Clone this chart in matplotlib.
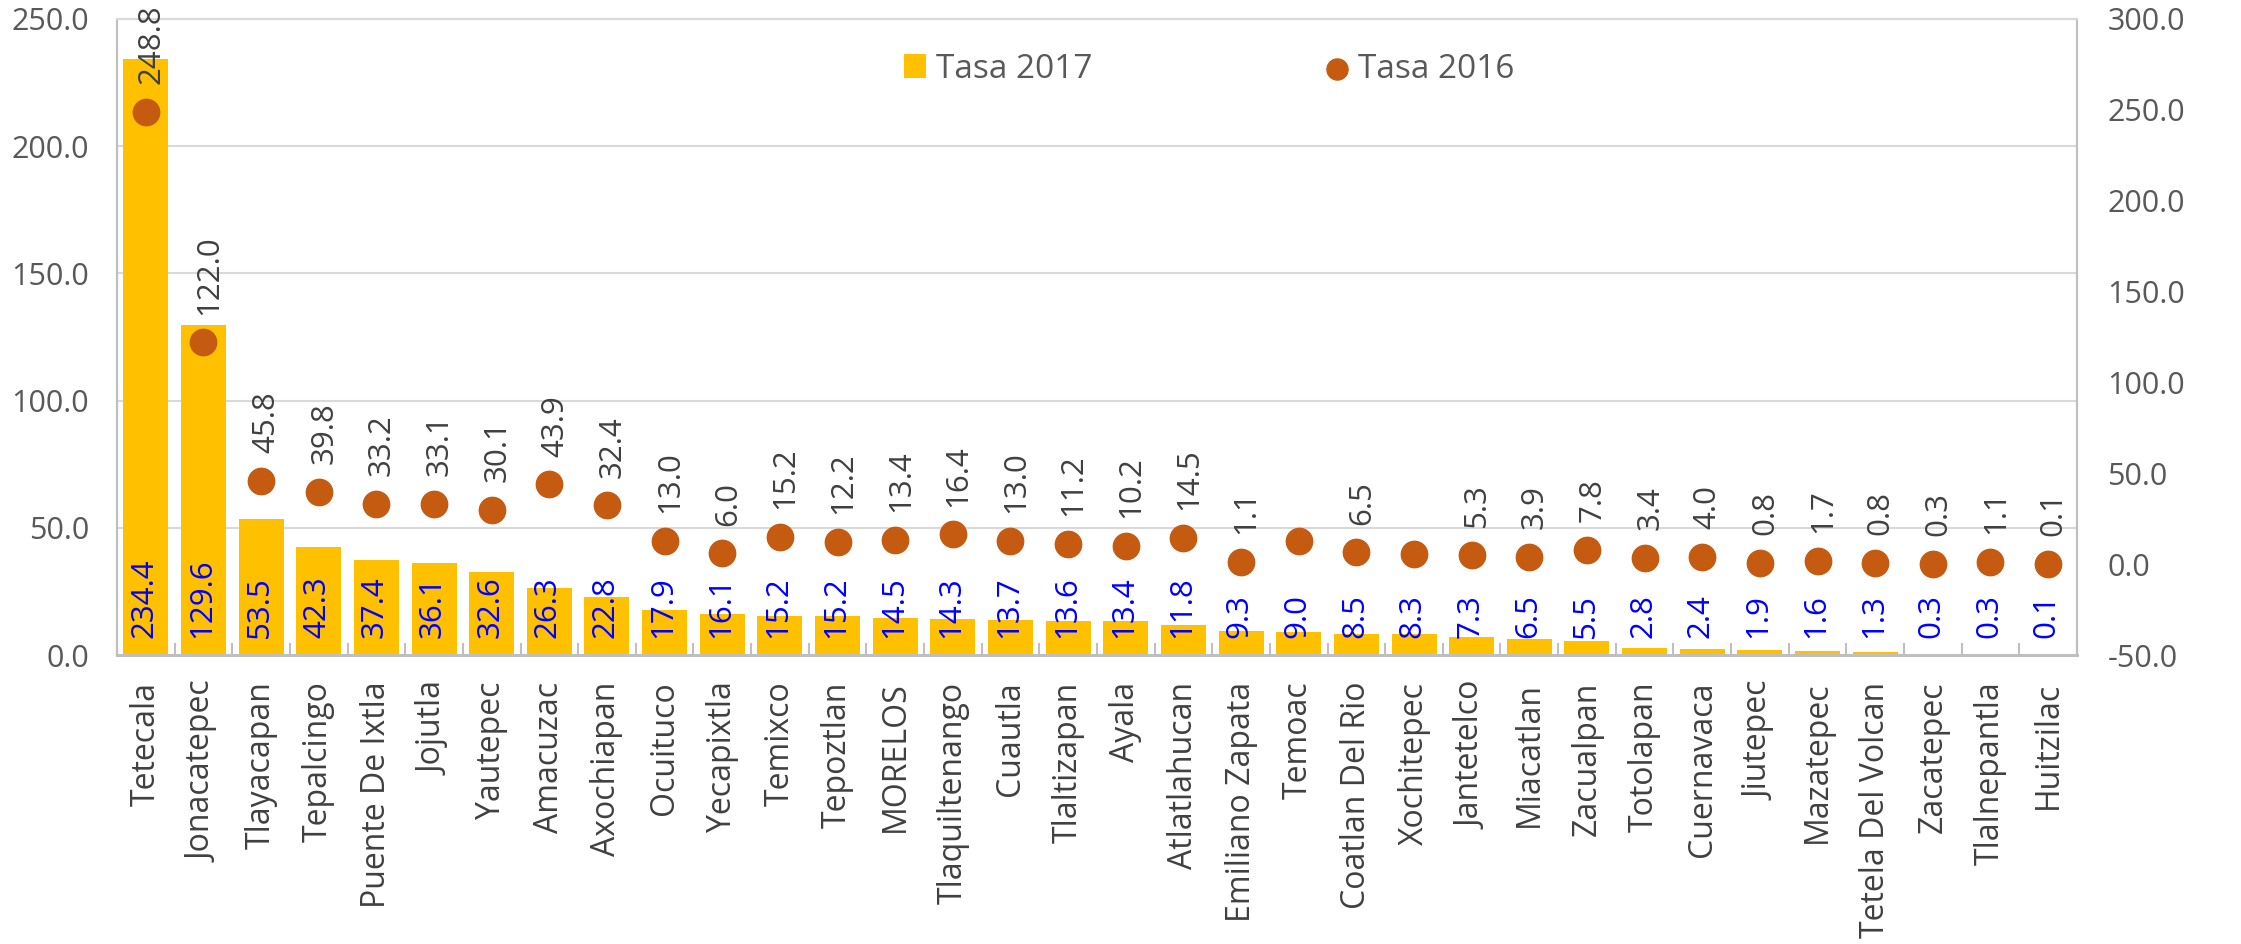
import matplotlib
matplotlib.use("Agg")
import matplotlib.pyplot as plt
import numpy as np

plt.rcParams['font.family'] = ['Open Sans', 'DejaVu Sans']

municipios = ["Tetecala", "Jonacatepec", "Tlayacapan", "Tepalcingo", "Puente De Ixtla",
              "Jojutla", "Yautepec", "Amacuzac", "Axochiapan", "Ocuituco", "Yecapixtla",
              "Temixco", "Tepoztlan", "MORELOS", "Tlaquiltenango", "Cuautla", "Tlaltizapan",
              "Ayala", "Atlatlahucan", "Emiliano Zapata", "Temoac", "Coatlan Del Rio",
              "Xochitepec", "Jantetelco", "Miacatlan", "Zacualpan", "Totolapan", "Cuernavaca",
              "Jiutepec", "Mazatepec", "Tetela Del Volcan", "Zacatepec", "Tlalnepantla",
              "Huitzilac"]
tasa_2017 = [234.4, 129.6, 53.5, 42.3, 37.4, 36.1, 32.6, 26.3, 22.8, 17.9, 16.1, 15.2,
             15.2, 14.5, 14.3, 13.7, 13.6, 13.4, 11.8, 9.3, 9.0, 8.5, 8.3, 7.3, 6.5, 5.5,
             2.8, 2.4, 1.9, 1.6, 1.3, 0.3, 0.3, 0.1]
tasa_2016 = [248.8, 122.0, 45.8, 39.8, 33.2, 33.1, 30.1, 43.9, 32.4, 13.0, 6.0, 15.2,
             12.2, 13.4, 16.4, 13.0, 11.2, 10.2, 14.5, 1.1, 13.0, 6.5, 5.8, 5.3, 3.9, 7.8,
             3.4, 4.0, 0.8, 1.7, 0.8, 0.3, 1.1, 0.1]
# labels missing in the original for Temoac and Xochitepec
etiquetas_2016 = ["248.8", "122.0", "45.8", "39.8", "33.2", "33.1", "30.1", "43.9", "32.4",
                  "13.0", "6.0", "15.2", "12.2", "13.4", "16.4", "13.0", "11.2", "10.2",
                  "14.5", "1.1", "", "6.5", "", "5.3", "3.9", "7.8", "3.4", "4.0", "0.8",
                  "1.7", "0.8", "0.3", "1.1", "0.1"]

gris = '#595959'
x = np.arange(len(municipios))

fig = plt.figure(figsize=(22.41, 9.44), dpi=100)
ax = fig.add_axes([0.0522, 0.306, 0.8746, 0.674])
ax2 = ax.twinx()

ax.bar(x, tasa_2017, width=0.78, color='#FFC000', label='Tasa 2017', zorder=2)
ax2.scatter(x, tasa_2016, s=360, color='#C55A11', label='Tasa 2016', zorder=3)

for xi, v in zip(x, tasa_2017):
    ax.annotate(f"{v:.1f}", (xi, 0), xytext=(-1, 12), textcoords='offset points',
                rotation=90, ha='center', va='bottom', color='#0000FF', fontsize=22.5)
for xi, v, t in zip(x, tasa_2016, etiquetas_2016):
    if t:
        ax2.annotate(t, (xi, v), xytext=(4, 20), textcoords='offset points',
                     rotation=90, ha='center', va='bottom', color='#404040', fontsize=22.5)

ax.set_xlim(-0.5, len(municipios) - 0.5)
ax.set_ylim(0, 250)
ax.set_yticks(np.arange(0, 251, 50))
ax.set_yticklabels([f"{v:.1f}" for v in np.arange(0, 251, 50)])
ax2.set_ylim(-50, 300)
ax2.set_yticks(np.arange(-50, 301, 50))
ax2.set_yticklabels([f"{v:.1f}" for v in np.arange(-50, 301, 50)])

ax.set_xticks(x)
ax.set_xticklabels(municipios, rotation=90, fontsize=23, color='#404040')
ax.set_xticks(np.arange(-0.5, len(municipios), 1), minor=True)
ax.tick_params(axis='x', which='major', length=0, pad=19)
ax.tick_params(axis='x', which='minor', direction='in', length=9, color='#BFBFBF', width=1.5)
ax.tick_params(axis='y', length=0, labelsize=22, labelcolor=gris, pad=20)
ax2.tick_params(axis='y', length=0, labelsize=22, labelcolor=gris, pad=22)

ax.grid(axis='y', color='#D9D9D9', linewidth=1.5, zorder=0)
ax.set_axisbelow(True)
for a in (ax, ax2):
    for s in a.spines.values():
        s.set_color('#BFBFBF')
        s.set_linewidth(1.5)
    a.spines['bottom'].set_linewidth(2)
    a.spines['top'].set_color('#D9D9D9')

h1, l1 = ax.get_legend_handles_labels()
h2, l2 = ax2.get_legend_handles_labels()
ax.legend(h1 + h2, l1 + l2, loc='center left', bbox_to_anchor=(0.4015, 0.921), ncol=2,
          frameon=False, fontsize=24, labelcolor=gris, columnspacing=7.0,
          handlelength=0.67, handleheight=0.7, handletextpad=0.3, markerscale=0.8,
          borderpad=0, borderaxespad=0)

fig.savefig('out.png', dpi=100)
